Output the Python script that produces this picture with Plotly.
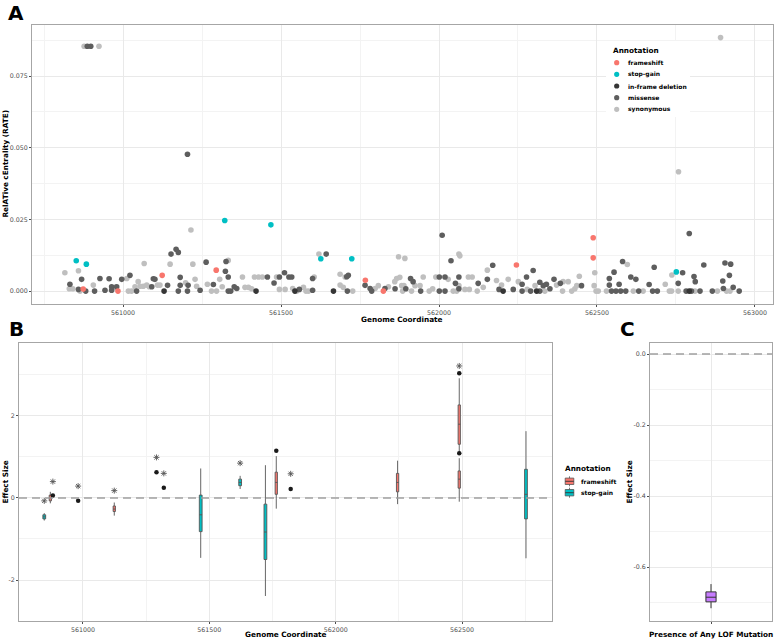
import plotly.graph_objects as go

W, H = 775, 640

# ---------------- Panel A data (Genome coordinate vs RATE) ----------------
frameshift_x = [560874, 560984, 561124, 561295, 561767, 561824, 562245, 562488, 562488]
frameshift_y = [0.0007, 0.0, 0.0055, 0.0073, 0.0038, 0.0, 0.0091, 0.0186, 0.0116]

stopgain_x = [560852, 560884, 561322, 561468, 561626, 561724, 562751]
stopgain_y = [0.0106, 0.0094, 0.0246, 0.0231, 0.0113, 0.0113, 0.0067]

inframe_x = [561130, 561421, 561544, 561666, 562203, 562309, 562792]
inframe_y = [0.0, 0.0, 0.0, 0.0, 0.0, 0.0, 0.0]

missense_x = [560887, 560898, 561204, 562010, 562792,
              560832, 560859, 560869, 560882, 560910, 560927, 560943, 560956, 560964, 560964,
              560980, 560996, 561022, 561043, 561091, 561096, 561101, 561141, 561152, 561168,
              561175, 561181, 561181, 561175, 561206, 561204, 561244, 561263, 561286, 561324,
              561326, 561333, 561333, 561341, 561352, 561360, 561457, 561478, 561495, 561511,
              561525, 561534, 561558, 561600, 561600, 561643, 561708, 561713, 561710, 561766,
              561782, 561787, 561829, 561861,
              561895, 561910, 561918, 561942, 562001, 562019, 562001, 562019, 562038, 562052,
              562063, 562063, 562124, 562153, 562170, 562190, 562235, 562263, 562263, 562277,
              562290, 562298, 562319, 562319, 562330, 562340, 562351, 562364, 562384, 562451,
              562539, 562539, 562554, 562546, 562560, 562575, 562591, 562570, 562581, 562607,
              562623, 562632, 562665, 562681, 562676, 562691, 562757, 562771, 562782, 562799,
              562807, 562811, 562826, 562838, 562865, 562898, 562900, 562905, 562923, 562919,
              562931, 562950]
missense_y = [0.0854, 0.0854, 0.0477, 0.0195, 0.0201,
              0.0024, 0.0006, 0.0041, 0.0, 0.0, 0.0044, 0.0003, 0.0043, 0.0015, 0.0003,
              0.0015, 0.0041, 0.0055, 0.0, 0.0015, 0.0043, 0.0041, 0.002, 0.0129, 0.0146,
              0.0135, 0.0048, 0.002, 0.0, 0.002, 0.0, 0.0003, 0.0101, 0.0023, 0.0069,
              0.0103, 0.0049, 0.0, 0.0, 0.0015, 0.0009, 0.0049, 0.0028, 0.0049, 0.0064,
              0.0049, 0.0049, 0.0006, 0.0044, 0.0003, 0.0129, 0.005, 0.0055, 0.0, 0.002,
              0.0009, 0.0, 0.0009, 0.0008,
              0.0008, 0.0044, 0.0033, 0.0, 0.0049, 0.0049, 0.0, 0.0, 0.0106, 0.0027,
              0.0049, 0.0008, 0.0027, 0.0041, 0.009, 0.0006, 0.0006, 0.0024, 0.0, 0.0049,
              0.0, 0.0072, 0.0, 0.0031, 0.0019, 0.0024, 0.0008, 0.0041, 0.0027, 0.0019,
              0.0044, 0.0021, 0.0066, 0.0, 0.0, 0.0, 0.0, 0.0024, 0.0103, 0.0049,
              0.0041, 0.0, 0.0023, 0.0083, 0.0, 0.0, 0.0027, 0.0064, 0.0, 0.0,
              0.0051, 0.0033, 0.0, 0.0091, 0.0, 0.0035, 0.0009, 0.0098, 0.0094, 0.0055,
              0.0013, 0.0]

synonymous_x = [560877, 560924, 562891, 562758, 561215,
                560816, 560830, 560841, 560859, 560864, 560906, 560975, 561012, 561017, 561027,
                561038, 561048, 561054, 561064, 561067, 561075, 561083, 561109, 561117, 561149,
                561198, 561221, 561228, 561233, 561267, 561280, 561296, 561306, 561314, 561333,
                561378, 561386, 561397, 561407, 561416, 561429, 561441, 561486, 561495, 561513,
                561537, 561550, 561571, 561579, 561587, 561605, 561620, 561687, 561703, 561687,
                561697, 561727, 561798, 561808, 561840, 561872, 561866,
                561860, 561892, 561876, 561882, 561889, 561885, 561913, 561924, 561940, 561950,
                561969, 561980, 561990, 562029, 562063, 562066, 562063, 562045, 562056, 562082,
                562096, 562093, 562105, 562121, 562140, 562153, 562182, 562198, 562219, 562251,
                562279, 562304, 562335, 562372, 562391, 562393, 562409, 562420, 562430, 562436,
                562444, 562493, 562491, 562497, 562504, 562530, 562596, 562615, 562646, 562716,
                562729, 562736, 562737, 562757, 562810, 562881, 562910, 562921]
synonymous_y = [0.0854, 0.0854, 0.0884, 0.0416, 0.0213,
                0.0064, 0.0008, 0.0008, 0.0071, 0.0, 0.0021, 0.0013, 0.0044, 0.0, 0.0,
                0.0015, 0.0033, 0.0017, 0.0017, 0.0096, 0.0021, 0.0015, 0.0021, 0.0021, 0.0094,
                0.0029, 0.0094, 0.0041, 0.0017, 0.0024, 0.0, 0.0, 0.0041, 0.0015, 0.0107,
                0.0049, 0.0013, 0.0013, 0.0008, 0.0049, 0.0049, 0.0049, 0.0049, 0.0006, 0.0006,
                0.0009, 0.0, 0.0013, 0.0, 0.0, 0.0049, 0.0129, 0.0059, 0.0049, 0.0021,
                0.0013, 0.0, 0.0009, 0.0019, 0.0015, 0.012, 0.0044,
                0.0033, 0.0114, 0.0048, 0.0019, 0.0019, 0.0, 0.0, 0.0019, 0.0019, 0.0049,
                0.0, 0.0008, 0.0049, 0.0041, 0.0129, 0.0123, 0.0019, 0.0, 0.0, 0.0006,
                0.0006, 0.0049, 0.0049, 0.0, 0.0013, 0.0073, 0.0037, 0.0021, 0.0041, 0.0033,
                0.0006, 0.0019, 0.0, 0.0021, 0.0, 0.0033, 0.0033, 0.0, 0.0008, 0.0019,
                0.0052, 0.0064, 0.0019, 0.0, 0.0, 0.0, 0.0093, 0.0, 0.0, 0.0024,
                0.0, 0.0, 0.0056, 0.0, 0.0, 0.0, 0.0, 0.0]

# ---------------- Panel B data (precomputed box statistics) ----------------
fs_box_x = [560871, 561124, 561765, 562245, 562489, 562489]
fs_q1 = [-0.07, -0.33, 0.09, 0.15, 1.31, 0.24]
fs_med = [0.0, -0.27, 0.38, 0.38, 1.80, 0.46]
fs_q3 = [0.07, -0.195, 0.63, 0.60, 2.27, 0.66]
fs_lo = [-0.13, -0.43, -0.26, -0.15, 1.12, -0.09]
fs_hi = [0.15, -0.11, 1.02, 0.91, 2.92, 0.97]

sg_box_x = [560847, 561466, 561622, 561722, 562753]
sg_q1 = [-0.51, -0.82, 0.30, -1.50, -0.51]
sg_med = [-0.46, -0.41, 0.38, -0.83, 0.09]
sg_q3 = [-0.41, 0.07, 0.46, -0.15, 0.70]
sg_lo = [-0.55, -1.46, 0.22, -2.39, -1.47]
sg_hi = [-0.37, 0.72, 0.54, 0.80, 1.63]

dot_x = [560881, 560981, 561291, 561320, 561822, 561765, 562489, 562489]
dot_y = [0.06, -0.065, 0.63, 0.25, 0.22, 1.15, 3.04, 1.09]

star_x = [560847, 560881, 560981, 561124, 561291, 561320, 561622, 561822, 562489]
star_y = [-0.07, 0.40, 0.29, 0.18, 0.99, 0.60, 0.85, 0.59, 3.22]

# ---------------- Panel C data ----------------
c_q1, c_med, c_q3, c_lo, c_hi = [-0.698], [-0.685], [-0.670], [-0.716], [-0.648]

# tick labels
a_xticks = [561000, 561500, 562000, 562500, 563000]
a_xticktext = ["561000", "561500", "562000", "562500", "563000"]
a_yticks = [0.0, 0.025, 0.05, 0.075]
a_yticktext = ["0.000", "0.025", "0.050", "0.075"]
b_xticks = [561000, 561500, 562000, 562500]
b_xticktext = ["561000", "561500", "562000", "562500"]
b_yticks = [-2, 0, 2]
b_yticktext = ["-2", "0", "2"]
c_yticks = [-0.6, -0.4, -0.2, 0.0]
c_yticktext = ["-0.6", "-0.4", "-0.2", "0.0"]

COL = {"frameshift": "#F8766D", "stop-gain": "#00BFC4", "in-frame deletion": "#363636",
       "missense": "#5e5e5e", "synonymous": "#bfbfbf"}
FONT = "DejaVu Sans"


def pxx(v):
    return v / W


def pyy(v):
    return 1 - v / H


fig = go.Figure()

for name, xs, ys in [("synonymous", synonymous_x, synonymous_y),
                     ("missense", missense_x, missense_y),
                     ("in-frame deletion", inframe_x, inframe_y),
                     ("frameshift", frameshift_x, frameshift_y),
                     ("stop-gain", stopgain_x, stopgain_y)]:
    fig.add_trace(go.Scatter(x=xs, y=ys, mode="markers", name=name, showlegend=False,
                             marker=dict(size=5.6, color=COL[name], line=dict(width=0)),
                             xaxis="x", yaxis="y"))

box_line = dict(color="#555555", width=0.9)
fig.add_trace(go.Box(x=fs_box_x, q1=fs_q1, median=fs_med, q3=fs_q3, lowerfence=fs_lo,
                     upperfence=fs_hi, width=9, whiskerwidth=0, fillcolor=COL["frameshift"],
                     line=box_line, boxpoints=False, showlegend=False, name="frameshift",
                     xaxis="x2", yaxis="y2"))
fig.add_trace(go.Box(x=sg_box_x, q1=sg_q1, median=sg_med, q3=sg_q3, lowerfence=sg_lo,
                     upperfence=sg_hi, width=11, whiskerwidth=0, fillcolor=COL["stop-gain"],
                     line=box_line, boxpoints=False, showlegend=False, name="stop-gain",
                     xaxis="x2", yaxis="y2"))
fig.add_trace(go.Scatter(x=dot_x, y=dot_y, mode="markers", showlegend=False,
                         marker=dict(size=4.5, color="#1a1a1a"), xaxis="x2", yaxis="y2"))
fig.add_trace(go.Scatter(x=star_x, y=star_y, mode="markers", showlegend=False,
                         marker=dict(size=5, symbol="asterisk-open", color="#555555",
                                     line=dict(width=0.9, color="#555555")),
                         xaxis="x2", yaxis="y2"))

fig.add_trace(go.Box(x=[0], q1=c_q1, median=c_med, q3=c_q3, lowerfence=c_lo, upperfence=c_hi,
                     width=0.1, whiskerwidth=0, fillcolor="#C77CFF",
                     line=dict(color="#333333", width=1),
                     boxpoints=False, showlegend=False, xaxis="x3", yaxis="y3"))

tickfont = dict(family=FONT, size=6.3, color="#4d4d4d")
grid = dict(showgrid=True, gridcolor="#e9e9e9", gridwidth=0.8, zeroline=False,
            showline=True, mirror=True, linecolor="#a6a6a6", linewidth=1,
            ticks="outside", ticklen=2, tickwidth=0.8, tickcolor="#4d4d4d",
            tickfont=tickfont, automargin=False, tickmode="array")
minor = dict(showgrid=True, gridcolor="#f3f3f3", gridwidth=0.6, ticks="", tickmode="array")

fig.update_layout(
    width=W, height=H, margin=dict(l=0, r=0, t=0, b=0),
    paper_bgcolor="white", plot_bgcolor="white", showlegend=False, boxmode="overlay",
    xaxis=dict(domain=[pxx(32), pxx(773)], range=[560712, 563057], anchor="y",
               tickvals=a_xticks, ticktext=a_xticktext,
               minor=dict(minor, tickvals=[560750, 561250, 561750, 562250, 562750]), **grid),
    yaxis=dict(domain=[pyy(304), pyy(25)], range=[-0.0045, 0.0928], anchor="x",
               tickvals=a_yticks, ticktext=a_yticktext,
               minor=dict(minor, tickvals=[0.0125, 0.0375, 0.0625, 0.0875]), **grid),
    xaxis2=dict(domain=[pxx(19), pxx(552)], range=[560747, 562856], anchor="y2",
                tickvals=b_xticks, ticktext=b_xticktext,
                minor=dict(minor, tickvals=[560750, 561250, 561750, 562250, 562750]), **grid),
    yaxis2=dict(domain=[pyy(621), pyy(343)], range=[-3.0, 3.78], anchor="x2",
                tickvals=b_yticks, ticktext=b_yticktext,
                minor=dict(minor, tickvals=[-3, -1, 1, 3]), **grid),
    xaxis3=dict(domain=[pxx(650), pxx(772)], range=[-0.6, 0.6], anchor="y3",
                tickvals=[0], ticktext=[""], **grid),
    yaxis3=dict(domain=[pyy(621), pyy(343)], range=[-0.752, 0.031], anchor="x3",
                tickvals=c_yticks, ticktext=c_yticktext,
                minor=dict(minor, tickvals=[-0.7, -0.5, -0.3, -0.1]), **grid),
)

shapes = []
for xr, yr in [("x2 domain", "y2"), ("x3 domain", "y3")]:
    shapes.append(dict(type="line", xref=xr, yref=yr, x0=0, x1=1, y0=0, y1=0, layer="above",
                       line=dict(color="#a0a0a0", width=1.4, dash="8px,5px")))

annotations = []


def text(t, x, y, size, xanchor="center", angle=0, bold=True, color="black"):
    annotations.append(dict(text=t, x=pxx(x), y=pyy(y), xref="paper", yref="paper",
                            showarrow=False, xanchor=xanchor, yanchor="middle", textangle=angle,
                            font=dict(family=FONT, size=size, color=color,
                                      weight="bold" if bold else "normal")))


# panel letters
text("A", 16, 13, 20)
text("B", 16, 329, 20)
text("C", 627, 329, 20)
# axis titles
text("RelATive cEntrality (RATE)", 4.5, 164, 7.3, angle=-90)
text("Genome Coordinate", 402, 319.5, 7.3)
text("Effect Size", 4.5, 482, 7.3, angle=-90)
text("Genome Coordinate", 285.5, 634.5, 7.3)
text("Effect Size", 628.5, 482, 7.3, angle=-90)
text("Presence of Any LOF Mutation", 710.5, 634.5, 7.3)

# Legend A (manual, compact like ggplot)
shapes.append(dict(type="rect", xref="paper", yref="paper", x0=pxx(606), x1=pxx(690),
                   y0=pyy(117), y1=pyy(41), fillcolor="white", line=dict(width=0), layer="above"))
text("Annotation", 610.5, 50, 7.3, xanchor="left")
leg_names = ["frameshift", "stop-gain", "in-frame deletion", "missense", "synonymous"]
leg_y = [62.7, 74.3, 86.0, 97.7, 109.3]
for nm, yy in zip(leg_names, leg_y):
    r = 2.6
    shapes.append(dict(type="circle", xref="paper", yref="paper", x0=pxx(616.7 - r), x1=pxx(616.7 + r),
                       y0=pyy(yy + r), y1=pyy(yy - r), fillcolor=COL[nm], line=dict(width=0),
                       layer="above"))
    text(nm, 626, yy, 6, xanchor="left")

# Legend B
text("Annotation", 563, 468, 7.3, xanchor="left")
for nm, yy in zip(["frameshift", "stop-gain"], [481.3, 492.7]):
    cx = 569.5
    shapes.append(dict(type="line", xref="paper", yref="paper", x0=pxx(cx), x1=pxx(cx),
                       y0=pyy(yy + 5), y1=pyy(yy - 5), line=dict(color="#555555", width=0.8),
                       layer="above"))
    shapes.append(dict(type="rect", xref="paper", yref="paper", x0=pxx(cx - 4.3), x1=pxx(cx + 4.3),
                       y0=pyy(yy + 3.2), y1=pyy(yy - 3.2), fillcolor=COL[nm],
                       line=dict(color="#555555", width=0.8), layer="above"))
    shapes.append(dict(type="line", xref="paper", yref="paper", x0=pxx(cx - 4.3), x1=pxx(cx + 4.3),
                       y0=pyy(yy), y1=pyy(yy), line=dict(color="#333333", width=0.9),
                       layer="above"))
    text(nm, 579, yy, 6, xanchor="left")

fig.update_layout(shapes=shapes, annotations=annotations)
fig.write_html("out.html")
